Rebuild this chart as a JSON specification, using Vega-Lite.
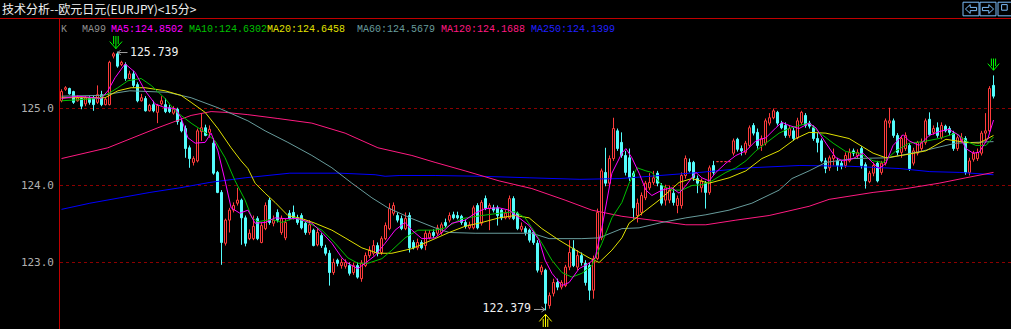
{
"$schema":"https://vega.github.io/schema/vega-lite/v6.json",
"width":1011,"height":311,
"autosize":{"type":"none"},
"padding":{"left":0,"top":18,"right":0,"bottom":0},
"background":"#000000",
"config":{"view":{"stroke":null}},
"datasets":{
"grid":[{"p":123},{"p":124},{"p":125}],
"k":[
{"i":0,"o":125.10,"h":125.25,"l":125.08,"c":125.22},
{"i":1,"o":125.25,"h":125.29,"l":125.23,"c":125.27},
{"i":2,"o":125.26,"h":125.27,"l":125.18,"c":125.19},
{"i":3,"o":125.22,"h":125.23,"l":125.06,"c":125.08},
{"i":4,"o":125.10,"h":125.17,"l":125.09,"c":125.14},
{"i":5,"o":125.13,"h":125.14,"l":124.99,"c":125.03},
{"i":6,"o":125.06,"h":125.16,"l":125.03,"c":125.14},
{"i":7,"o":125.13,"h":125.16,"l":125.05,"c":125.08},
{"i":8,"o":125.14,"h":125.17,"l":124.97,"c":125.05},
{"i":9,"o":125.08,"h":125.30,"l":125.06,"c":125.18},
{"i":10,"o":125.18,"h":125.23,"l":125.03,"c":125.05},
{"i":11,"o":125.05,"h":125.14,"l":125.04,"c":125.12},
{"i":12,"o":125.05,"h":125.62,"l":125.04,"c":125.60},
{"i":13,"o":125.68,"h":125.73,"l":125.65,"c":125.71},
{"i":14,"o":125.71,"h":125.739,"l":125.53,"c":125.55},
{"i":15,"o":125.57,"h":125.62,"l":125.55,"c":125.60},
{"i":16,"o":125.57,"h":125.60,"l":125.36,"c":125.39},
{"i":17,"o":125.39,"h":125.49,"l":125.38,"c":125.45},
{"i":18,"o":125.45,"h":125.49,"l":125.27,"c":125.30},
{"i":19,"o":125.31,"h":125.34,"l":125.08,"c":125.10},
{"i":20,"o":125.10,"h":125.19,"l":125.09,"c":125.14},
{"i":21,"o":125.13,"h":125.16,"l":124.96,"c":124.97},
{"i":22,"o":124.97,"h":125.06,"l":124.96,"c":125.04},
{"i":23,"o":125.05,"h":125.10,"l":124.95,"c":124.97},
{"i":24,"o":124.95,"h":125.06,"l":124.81,"c":125.04},
{"i":25,"o":125.06,"h":125.16,"l":125.04,"c":125.10},
{"i":26,"o":125.05,"h":125.13,"l":124.94,"c":124.96},
{"i":27,"o":125.01,"h":125.05,"l":124.94,"c":124.96},
{"i":28,"o":124.94,"h":125.03,"l":124.92,"c":124.99},
{"i":29,"o":124.99,"h":125.01,"l":124.79,"c":124.83},
{"i":30,"o":124.82,"h":124.86,"l":124.69,"c":124.71},
{"i":31,"o":124.74,"h":124.78,"l":124.36,"c":124.48},
{"i":32,"o":124.49,"h":124.52,"l":124.23,"c":124.35},
{"i":33,"o":124.30,"h":124.38,"l":124.26,"c":124.35},
{"i":34,"o":124.32,"h":124.74,"l":124.30,"c":124.71},
{"i":35,"o":124.70,"h":124.94,"l":124.58,"c":124.75},
{"i":36,"o":124.75,"h":124.79,"l":124.64,"c":124.65},
{"i":37,"o":124.69,"h":124.78,"l":124.62,"c":124.73},
{"i":38,"o":124.55,"h":124.61,"l":124.14,"c":124.16},
{"i":39,"o":124.17,"h":124.19,"l":123.90,"c":123.91},
{"i":40,"o":123.91,"h":123.94,"l":122.97,"c":123.26},
{"i":41,"o":123.25,"h":123.57,"l":123.22,"c":123.55},
{"i":42,"o":123.55,"h":123.71,"l":123.39,"c":123.68},
{"i":43,"o":123.68,"h":123.78,"l":123.65,"c":123.74},
{"i":44,"o":123.77,"h":123.97,"l":123.74,"c":123.81},
{"i":45,"o":123.81,"h":123.83,"l":123.23,"c":123.58},
{"i":46,"o":123.58,"h":123.61,"l":123.21,"c":123.25},
{"i":47,"o":123.31,"h":123.43,"l":123.29,"c":123.38},
{"i":48,"o":123.31,"h":123.61,"l":123.29,"c":123.47},
{"i":49,"o":123.57,"h":123.60,"l":123.29,"c":123.31},
{"i":50,"o":123.26,"h":123.52,"l":123.25,"c":123.48},
{"i":51,"o":123.44,"h":123.78,"l":123.42,"c":123.74},
{"i":52,"o":123.81,"h":123.84,"l":123.49,"c":123.52},
{"i":53,"o":123.51,"h":123.61,"l":123.47,"c":123.55},
{"i":54,"o":123.65,"h":123.69,"l":123.52,"c":123.55},
{"i":55,"o":123.39,"h":123.61,"l":123.36,"c":123.57},
{"i":56,"o":123.32,"h":123.57,"l":123.29,"c":123.52},
{"i":57,"o":123.64,"h":123.68,"l":123.55,"c":123.57},
{"i":58,"o":123.65,"h":123.74,"l":123.56,"c":123.58},
{"i":59,"o":123.58,"h":123.62,"l":123.49,"c":123.52},
{"i":60,"o":123.61,"h":123.64,"l":123.43,"c":123.45},
{"i":61,"o":123.51,"h":123.53,"l":123.36,"c":123.39},
{"i":62,"o":123.39,"h":123.55,"l":123.36,"c":123.49},
{"i":63,"o":123.42,"h":123.44,"l":123.21,"c":123.22},
{"i":64,"o":123.23,"h":123.44,"l":123.21,"c":123.39},
{"i":65,"o":123.35,"h":123.38,"l":123.19,"c":123.22},
{"i":66,"o":123.19,"h":123.23,"l":123.09,"c":123.12},
{"i":67,"o":123.12,"h":123.16,"l":122.70,"c":122.87},
{"i":68,"o":122.87,"h":123.05,"l":122.84,"c":123.00},
{"i":69,"o":123.03,"h":123.05,"l":122.95,"c":122.99},
{"i":70,"o":122.96,"h":123.05,"l":122.92,"c":123.00},
{"i":71,"o":122.95,"h":123.04,"l":122.92,"c":123.00},
{"i":72,"o":122.96,"h":123.00,"l":122.83,"c":122.86},
{"i":73,"o":122.87,"h":123.00,"l":122.84,"c":122.96},
{"i":74,"o":122.96,"h":123.00,"l":122.79,"c":122.81},
{"i":75,"o":122.79,"h":123.03,"l":122.75,"c":122.99},
{"i":76,"o":122.96,"h":123.13,"l":122.94,"c":123.09},
{"i":77,"o":123.09,"h":123.21,"l":123.06,"c":123.16},
{"i":78,"o":123.12,"h":123.29,"l":123.09,"c":123.22},
{"i":79,"o":123.22,"h":123.26,"l":123.08,"c":123.12},
{"i":80,"o":123.13,"h":123.34,"l":123.10,"c":123.31},
{"i":81,"o":123.31,"h":123.52,"l":123.29,"c":123.48},
{"i":82,"o":123.44,"h":123.77,"l":123.42,"c":123.70},
{"i":83,"o":123.64,"h":123.78,"l":123.61,"c":123.74},
{"i":84,"o":123.61,"h":123.65,"l":123.52,"c":123.55},
{"i":85,"o":123.57,"h":123.61,"l":123.42,"c":123.44},
{"i":86,"o":123.44,"h":123.65,"l":123.42,"c":123.57},
{"i":87,"o":123.61,"h":123.65,"l":123.13,"c":123.19},
{"i":88,"o":123.26,"h":123.29,"l":123.17,"c":123.19},
{"i":89,"o":123.19,"h":123.31,"l":123.16,"c":123.26},
{"i":90,"o":123.26,"h":123.29,"l":123.17,"c":123.19},
{"i":91,"o":123.22,"h":123.42,"l":123.16,"c":123.38},
{"i":92,"o":123.32,"h":123.42,"l":123.30,"c":123.38},
{"i":93,"o":123.39,"h":123.43,"l":123.32,"c":123.35},
{"i":94,"o":123.38,"h":123.49,"l":123.35,"c":123.45},
{"i":95,"o":123.39,"h":123.52,"l":123.36,"c":123.49},
{"i":96,"o":123.52,"h":123.57,"l":123.45,"c":123.48},
{"i":97,"o":123.55,"h":123.65,"l":123.52,"c":123.61},
{"i":98,"o":123.62,"h":123.66,"l":123.56,"c":123.58},
{"i":99,"o":123.61,"h":123.66,"l":123.56,"c":123.58},
{"i":100,"o":123.60,"h":123.62,"l":123.49,"c":123.52},
{"i":101,"o":123.52,"h":123.56,"l":123.44,"c":123.47},
{"i":102,"o":123.45,"h":123.53,"l":123.43,"c":123.49},
{"i":103,"o":123.45,"h":123.74,"l":123.43,"c":123.71},
{"i":104,"o":123.74,"h":123.77,"l":123.43,"c":123.45},
{"i":105,"o":123.51,"h":123.81,"l":123.48,"c":123.78},
{"i":106,"o":123.83,"h":123.87,"l":123.68,"c":123.70},
{"i":107,"o":123.70,"h":123.77,"l":123.42,"c":123.74},
{"i":108,"o":123.71,"h":123.75,"l":123.65,"c":123.68},
{"i":109,"o":123.71,"h":123.74,"l":123.48,"c":123.61},
{"i":110,"o":123.68,"h":123.70,"l":123.55,"c":123.58},
{"i":111,"o":123.58,"h":123.68,"l":123.56,"c":123.64},
{"i":112,"o":123.58,"h":123.87,"l":123.56,"c":123.83},
{"i":113,"o":123.83,"h":123.86,"l":123.55,"c":123.57},
{"i":114,"o":123.64,"h":123.66,"l":123.42,"c":123.44},
{"i":115,"o":123.43,"h":123.52,"l":123.40,"c":123.47},
{"i":116,"o":123.44,"h":123.47,"l":123.35,"c":123.39},
{"i":117,"o":123.42,"h":123.44,"l":123.26,"c":123.29},
{"i":118,"o":123.39,"h":123.42,"l":123.23,"c":123.26},
{"i":119,"o":123.25,"h":123.29,"l":122.87,"c":122.90},
{"i":120,"o":122.88,"h":122.97,"l":122.84,"c":122.94},
{"i":121,"o":122.90,"h":122.92,"l":122.379,"c":122.47},
{"i":122,"o":122.44,"h":122.61,"l":122.40,"c":122.57},
{"i":123,"o":122.60,"h":122.79,"l":122.56,"c":122.74},
{"i":124,"o":122.74,"h":122.79,"l":122.64,"c":122.68},
{"i":125,"o":122.68,"h":122.77,"l":122.65,"c":122.74},
{"i":126,"o":122.70,"h":122.97,"l":122.68,"c":122.94},
{"i":127,"o":122.94,"h":123.29,"l":122.90,"c":123.13},
{"i":128,"o":123.18,"h":123.29,"l":122.94,"c":122.96},
{"i":129,"o":122.94,"h":123.16,"l":122.90,"c":123.09},
{"i":130,"o":123.09,"h":123.13,"l":122.96,"c":123.00},
{"i":131,"o":122.99,"h":123.03,"l":122.70,"c":122.74},
{"i":132,"o":122.96,"h":123.00,"l":122.51,"c":122.64},
{"i":133,"o":122.64,"h":123.09,"l":122.53,"c":123.05},
{"i":134,"o":123.05,"h":123.70,"l":123.03,"c":123.65},
{"i":135,"o":123.32,"h":124.22,"l":123.29,"c":124.19},
{"i":136,"o":124.17,"h":124.49,"l":123.99,"c":124.03},
{"i":137,"o":124.03,"h":124.39,"l":124.00,"c":124.35},
{"i":138,"o":124.35,"h":124.88,"l":124.32,"c":124.74},
{"i":139,"o":124.71,"h":124.74,"l":124.45,"c":124.48},
{"i":140,"o":124.56,"h":124.69,"l":124.36,"c":124.39},
{"i":141,"o":124.39,"h":124.45,"l":124.13,"c":124.17},
{"i":142,"o":124.36,"h":124.48,"l":124.06,"c":124.10},
{"i":143,"o":124.16,"h":124.19,"l":123.57,"c":123.71},
{"i":144,"o":123.61,"h":123.83,"l":123.52,"c":123.77},
{"i":145,"o":123.65,"h":123.91,"l":123.61,"c":123.87},
{"i":146,"o":123.84,"h":124.06,"l":123.81,"c":124.03},
{"i":147,"o":123.97,"h":124.16,"l":123.94,"c":124.04},
{"i":148,"o":124.04,"h":124.19,"l":124.01,"c":124.10},
{"i":149,"o":124.16,"h":124.19,"l":123.99,"c":124.03},
{"i":150,"o":124.00,"h":124.03,"l":123.74,"c":123.77},
{"i":151,"o":123.81,"h":124.01,"l":123.74,"c":123.97},
{"i":152,"o":123.81,"h":124.00,"l":123.77,"c":123.94},
{"i":153,"o":123.90,"h":123.96,"l":123.74,"c":123.78},
{"i":154,"o":123.74,"h":123.87,"l":123.64,"c":123.83},
{"i":155,"o":123.74,"h":124.17,"l":123.70,"c":124.13},
{"i":156,"o":124.13,"h":124.39,"l":124.09,"c":124.35},
{"i":157,"o":124.30,"h":124.35,"l":124.17,"c":124.19},
{"i":158,"o":124.30,"h":124.32,"l":124.06,"c":124.10},
{"i":159,"o":124.09,"h":124.13,"l":123.90,"c":124.03},
{"i":160,"o":123.97,"h":124.09,"l":123.91,"c":124.06},
{"i":161,"o":124.03,"h":124.06,"l":123.70,"c":123.91},
{"i":162,"o":123.91,"h":124.26,"l":123.88,"c":124.23},
{"i":163,"o":124.26,"h":124.32,"l":124.14,"c":124.17},
{"i":164,"o":124.31,"h":124.31,"l":124.31,"c":124.31},
{"i":165,"o":124.31,"h":124.31,"l":124.31,"c":124.31},
{"i":166,"o":124.31,"h":124.31,"l":124.31,"c":124.31},
{"i":167,"o":124.31,"h":124.31,"l":124.31,"c":124.31},
{"i":168,"o":124.42,"h":124.61,"l":124.39,"c":124.58},
{"i":169,"o":124.60,"h":124.62,"l":124.44,"c":124.47},
{"i":170,"o":124.48,"h":124.52,"l":124.39,"c":124.45},
{"i":171,"o":124.43,"h":124.58,"l":124.40,"c":124.55},
{"i":172,"o":124.52,"h":124.78,"l":124.49,"c":124.75},
{"i":173,"o":124.78,"h":124.81,"l":124.65,"c":124.68},
{"i":174,"o":124.69,"h":124.74,"l":124.48,"c":124.52},
{"i":175,"o":124.52,"h":124.65,"l":124.45,"c":124.61},
{"i":176,"o":124.55,"h":124.87,"l":124.52,"c":124.84},
{"i":177,"o":124.81,"h":124.94,"l":124.78,"c":124.88},
{"i":178,"o":124.88,"h":125.00,"l":124.86,"c":124.97},
{"i":179,"o":124.95,"h":124.97,"l":124.78,"c":124.81},
{"i":180,"o":124.81,"h":124.84,"l":124.73,"c":124.75},
{"i":181,"o":124.78,"h":124.82,"l":124.62,"c":124.65},
{"i":182,"o":124.65,"h":124.78,"l":124.62,"c":124.74},
{"i":183,"o":124.71,"h":124.75,"l":124.58,"c":124.61},
{"i":184,"o":124.62,"h":124.88,"l":124.60,"c":124.84},
{"i":185,"o":124.82,"h":124.97,"l":124.79,"c":124.95},
{"i":186,"o":124.91,"h":124.94,"l":124.75,"c":124.78},
{"i":187,"o":124.81,"h":124.84,"l":124.74,"c":124.77},
{"i":188,"o":124.75,"h":124.78,"l":124.58,"c":124.61},
{"i":189,"o":124.61,"h":124.68,"l":124.43,"c":124.56},
{"i":190,"o":124.58,"h":124.61,"l":124.30,"c":124.32},
{"i":191,"o":124.32,"h":124.36,"l":124.16,"c":124.22},
{"i":192,"o":124.23,"h":124.39,"l":124.19,"c":124.36},
{"i":193,"o":124.35,"h":124.48,"l":124.26,"c":124.39},
{"i":194,"o":124.32,"h":124.36,"l":124.19,"c":124.26},
{"i":195,"o":124.29,"h":124.32,"l":124.21,"c":124.25},
{"i":196,"o":124.26,"h":124.43,"l":124.23,"c":124.39},
{"i":197,"o":124.32,"h":124.48,"l":124.30,"c":124.43},
{"i":198,"o":124.45,"h":124.48,"l":124.38,"c":124.42},
{"i":199,"o":124.39,"h":124.47,"l":124.35,"c":124.43},
{"i":200,"o":124.48,"h":124.51,"l":124.22,"c":124.26},
{"i":201,"o":124.27,"h":124.30,"l":123.96,"c":124.06},
{"i":202,"o":124.05,"h":124.19,"l":124.03,"c":124.16},
{"i":203,"o":124.16,"h":124.30,"l":124.12,"c":124.26},
{"i":204,"o":124.29,"h":124.32,"l":124.04,"c":124.06},
{"i":205,"o":124.17,"h":124.32,"l":124.14,"c":124.29},
{"i":206,"o":124.29,"h":124.87,"l":124.26,"c":124.84},
{"i":207,"o":124.81,"h":125.01,"l":124.75,"c":124.84},
{"i":208,"o":124.84,"h":124.87,"l":124.62,"c":124.65},
{"i":209,"o":124.65,"h":124.68,"l":124.39,"c":124.43},
{"i":210,"o":124.43,"h":124.65,"l":124.36,"c":124.61},
{"i":211,"o":124.48,"h":124.69,"l":124.45,"c":124.65},
{"i":212,"o":124.52,"h":124.55,"l":124.19,"c":124.22},
{"i":213,"o":124.29,"h":124.49,"l":124.26,"c":124.45},
{"i":214,"o":124.42,"h":124.58,"l":124.39,"c":124.56},
{"i":215,"o":124.48,"h":124.61,"l":124.45,"c":124.56},
{"i":216,"o":124.56,"h":124.87,"l":124.53,"c":124.84},
{"i":217,"o":124.86,"h":124.95,"l":124.64,"c":124.66},
{"i":218,"o":124.69,"h":124.78,"l":124.66,"c":124.74},
{"i":219,"o":124.75,"h":124.82,"l":124.62,"c":124.65},
{"i":220,"o":124.62,"h":124.82,"l":124.60,"c":124.78},
{"i":221,"o":124.77,"h":124.79,"l":124.69,"c":124.71},
{"i":222,"o":124.74,"h":124.77,"l":124.65,"c":124.69},
{"i":223,"o":124.68,"h":124.71,"l":124.45,"c":124.48},
{"i":224,"o":124.48,"h":124.65,"l":124.45,"c":124.62},
{"i":225,"o":124.58,"h":124.68,"l":124.56,"c":124.62},
{"i":226,"o":124.61,"h":124.64,"l":124.14,"c":124.17},
{"i":227,"o":124.17,"h":124.36,"l":124.13,"c":124.32},
{"i":228,"o":124.34,"h":124.45,"l":124.31,"c":124.42},
{"i":229,"o":124.35,"h":124.48,"l":124.32,"c":124.43},
{"i":230,"o":124.42,"h":124.71,"l":124.39,"c":124.68},
{"i":231,"o":124.68,"h":124.94,"l":124.58,"c":124.71},
{"i":232,"o":124.71,"h":125.29,"l":124.69,"c":125.26},
{"i":233,"o":125.30,"h":125.43,"l":125.13,"c":125.16}
],
"ma":[
{"s":"MA250","x":0,"p":123.69},{"s":"MA250","x":7.1,"p":123.77},{"s":"MA250","x":14.6,"p":123.84},{"s":"MA250","x":22.1,"p":123.91},{"s":"MA250","x":29.6,"p":123.97},{"s":"MA250","x":37.1,"p":124.04},{"s":"MA250","x":45.9,"p":124.10},{"s":"MA250","x":57.1,"p":124.16},{"s":"MA250","x":69.6,"p":124.16},{"s":"MA250","x":78.4,"p":124.14},{"s":"MA250","x":80.9,"p":124.12},{"s":"MA250","x":84.6,"p":124.13},{"s":"MA250","x":93.4,"p":124.13},{"s":"MA250","x":104.6,"p":124.12},{"s":"MA250","x":117.1,"p":124.10},{"s":"MA250","x":129.6,"p":124.08},{"s":"MA250","x":139.6,"p":124.09},{"s":"MA250","x":149.6,"p":124.13},{"s":"MA250","x":159.6,"p":124.17},{"s":"MA250","x":172.1,"p":124.23},{"s":"MA250","x":184.6,"p":124.26},{"s":"MA250","x":197.1,"p":124.25},{"s":"MA250","x":209.6,"p":124.22},{"s":"MA250","x":217.1,"p":124.18},{"s":"MA250","x":224.6,"p":124.17},{"s":"MA250","x":233,"p":124.14},
{"s":"MA120","x":0,"p":124.35},{"s":"MA120","x":11.6,"p":124.49},{"s":"MA120","x":24.1,"p":124.75},{"s":"MA120","x":32.4,"p":124.91},{"s":"MA120","x":37.4,"p":124.96},{"s":"MA120","x":40.9,"p":124.95},{"s":"MA120","x":46.6,"p":124.92},{"s":"MA120","x":54.1,"p":124.87},{"s":"MA120","x":62.6,"p":124.81},{"s":"MA120","x":70.9,"p":124.68},{"s":"MA120","x":79.1,"p":124.49},{"s":"MA120","x":87.6,"p":124.39},{"s":"MA120","x":93.4,"p":124.30},{"s":"MA120","x":100.9,"p":124.19},{"s":"MA120","x":109.4,"p":124.06},{"s":"MA120","x":117.6,"p":123.96},{"s":"MA120","x":125.9,"p":123.81},{"s":"MA120","x":132.6,"p":123.68},{"s":"MA120","x":140.1,"p":123.60},{"s":"MA120","x":147.6,"p":123.55},{"s":"MA120","x":156.1,"p":123.49},{"s":"MA120","x":161.1,"p":123.49},{"s":"MA120","x":168.6,"p":123.55},{"s":"MA120","x":176.9,"p":123.61},{"s":"MA120","x":186.9,"p":123.73},{"s":"MA120","x":191.9,"p":123.82},{"s":"MA120","x":202.9,"p":123.91},{"s":"MA120","x":211.1,"p":123.96},{"s":"MA120","x":219.4,"p":124.03},{"s":"MA120","x":226.1,"p":124.10},{"s":"MA120","x":233,"p":124.17},
{"s":"MA60","x":0,"p":125.16},{"s":"MA60","x":9.6,"p":125.17},{"s":"MA60","x":17.1,"p":125.23},{"s":"MA60","x":26.6,"p":125.21},{"s":"MA60","x":32.4,"p":125.14},{"s":"MA60","x":39.1,"p":125.01},{"s":"MA60","x":46.6,"p":124.84},{"s":"MA60","x":50.9,"p":124.71},{"s":"MA60","x":56.6,"p":124.56},{"s":"MA60","x":62.6,"p":124.39},{"s":"MA60","x":67.6,"p":124.23},{"s":"MA60","x":72.6,"p":124.03},{"s":"MA60","x":77.6,"p":123.84},{"s":"MA60","x":81.6,"p":123.71},{"s":"MA60","x":87.6,"p":123.57},{"s":"MA60","x":93.4,"p":123.45},{"s":"MA60","x":96.9,"p":123.39},{"s":"MA60","x":103.4,"p":123.38},{"s":"MA60","x":117.6,"p":123.38},{"s":"MA60","x":121.9,"p":123.31},{"s":"MA60","x":130.1,"p":123.31},{"s":"MA60","x":134.4,"p":123.32},{"s":"MA60","x":140.1,"p":123.44},{"s":"MA60","x":144.4,"p":123.45},{"s":"MA60","x":150.1,"p":123.52},{"s":"MA60","x":156.1,"p":123.58},{"s":"MA60","x":161.1,"p":123.62},{"s":"MA60","x":166.9,"p":123.68},{"s":"MA60","x":172.6,"p":123.77},{"s":"MA60","x":179.4,"p":123.94},{"s":"MA60","x":182.6,"p":124.09},{"s":"MA60","x":186.9,"p":124.19},{"s":"MA60","x":191.1,"p":124.30},{"s":"MA60","x":197.9,"p":124.35},{"s":"MA60","x":206.9,"p":124.36},{"s":"MA60","x":215.4,"p":124.45},{"s":"MA60","x":223.6,"p":124.55},{"s":"MA60","x":233,"p":124.57},
{"s":"MA20","x":0,"p":125.14},{"s":"MA20","x":10.9,"p":125.14},{"s":"MA20","x":14.1,"p":125.23},{"s":"MA20","x":17.4,"p":125.27},{"s":"MA20","x":20.9,"p":125.27},{"s":"MA20","x":25.9,"p":125.23},{"s":"MA20","x":29.9,"p":125.17},{"s":"MA20","x":32.4,"p":125.08},{"s":"MA20","x":35.9,"p":124.95},{"s":"MA20","x":39.1,"p":124.74},{"s":"MA20","x":42.4,"p":124.49},{"s":"MA20","x":44.9,"p":124.32},{"s":"MA20","x":46.6,"p":124.22},{"s":"MA20","x":48.4,"p":124.03},{"s":"MA20","x":50.9,"p":123.90},{"s":"MA20","x":53.4,"p":123.78},{"s":"MA20","x":56.6,"p":123.61},{"s":"MA20","x":60.1,"p":123.57},{"s":"MA20","x":63.4,"p":123.51},{"s":"MA20","x":67.6,"p":123.42},{"s":"MA20","x":70.9,"p":123.32},{"s":"MA20","x":75.1,"p":123.19},{"s":"MA20","x":79.1,"p":123.12},{"s":"MA20","x":82.6,"p":123.12},{"s":"MA20","x":87.6,"p":123.18},{"s":"MA20","x":93.4,"p":123.31},{"s":"MA20","x":96.9,"p":123.39},{"s":"MA20","x":100.9,"p":123.47},{"s":"MA20","x":105.1,"p":123.52},{"s":"MA20","x":109.4,"p":123.58},{"s":"MA20","x":113.4,"p":123.61},{"s":"MA20","x":116.9,"p":123.58},{"s":"MA20","x":120.1,"p":123.44},{"s":"MA20","x":124.4,"p":123.29},{"s":"MA20","x":127.6,"p":123.19},{"s":"MA20","x":131.9,"p":123.06},{"s":"MA20","x":134.4,"p":123.00},{"s":"MA20","x":137.6,"p":123.16},{"s":"MA20","x":140.1,"p":123.32},{"s":"MA20","x":141.9,"p":123.51},{"s":"MA20","x":144.4,"p":123.61},{"s":"MA20","x":149.4,"p":123.81},{"s":"MA20","x":154.4,"p":124.04},{"s":"MA20","x":157.6,"p":124.09},{"s":"MA20","x":161.9,"p":124.03},{"s":"MA20","x":166.9,"p":124.10},{"s":"MA20","x":171.1,"p":124.19},{"s":"MA20","x":175.1,"p":124.35},{"s":"MA20","x":179.4,"p":124.45},{"s":"MA20","x":183.6,"p":124.61},{"s":"MA20","x":186.9,"p":124.69},{"s":"MA20","x":191.1,"p":124.68},{"s":"MA20","x":196.9,"p":124.61},{"s":"MA20","x":202.9,"p":124.42},{"s":"MA20","x":206.1,"p":124.36},{"s":"MA20","x":211.1,"p":124.40},{"s":"MA20","x":216.1,"p":124.45},{"s":"MA20","x":221.1,"p":124.60},{"s":"MA20","x":226.1,"p":124.56},{"s":"MA20","x":229.4,"p":124.55},{"s":"MA20","x":233,"p":124.65},
{"s":"MA10","x":0,"p":125.10},{"s":"MA10","x":9.1,"p":125.13},{"s":"MA10","x":11.6,"p":125.19},{"s":"MA10","x":14.1,"p":125.27},{"s":"MA10","x":16.6,"p":125.36},{"s":"MA10","x":19.9,"p":125.39},{"s":"MA10","x":22.4,"p":125.30},{"s":"MA10","x":25.9,"p":125.13},{"s":"MA10","x":28.4,"p":124.97},{"s":"MA10","x":32.4,"p":124.81},{"s":"MA10","x":35.9,"p":124.69},{"s":"MA10","x":38.4,"p":124.58},{"s":"MA10","x":40.9,"p":124.36},{"s":"MA10","x":43.4,"p":124.06},{"s":"MA10","x":45.9,"p":123.81},{"s":"MA10","x":47.6,"p":123.58},{"s":"MA10","x":49.1,"p":123.53},{"s":"MA10","x":52.6,"p":123.56},{"s":"MA10","x":55.1,"p":123.52},{"s":"MA10","x":58.4,"p":123.58},{"s":"MA10","x":61.6,"p":123.52},{"s":"MA10","x":65.1,"p":123.42},{"s":"MA10","x":68.4,"p":123.25},{"s":"MA10","x":71.6,"p":123.06},{"s":"MA10","x":74.1,"p":122.99},{"s":"MA10","x":76.6,"p":122.99},{"s":"MA10","x":80.1,"p":123.05},{"s":"MA10","x":82.6,"p":123.16},{"s":"MA10","x":85.9,"p":123.32},{"s":"MA10","x":89.1,"p":123.42},{"s":"MA10","x":93.4,"p":123.42},{"s":"MA10","x":95.9,"p":123.45},{"s":"MA10","x":100.1,"p":123.57},{"s":"MA10","x":105.1,"p":123.61},{"s":"MA10","x":109.4,"p":123.64},{"s":"MA10","x":113.4,"p":123.66},{"s":"MA10","x":115.9,"p":123.58},{"s":"MA10","x":117.6,"p":123.45},{"s":"MA10","x":120.1,"p":123.25},{"s":"MA10","x":122.6,"p":123.03},{"s":"MA10","x":125.1,"p":122.87},{"s":"MA10","x":127.6,"p":122.81},{"s":"MA10","x":130.1,"p":122.86},{"s":"MA10","x":132.6,"p":122.96},{"s":"MA10","x":135.1,"p":123.25},{"s":"MA10","x":137.6,"p":123.58},{"s":"MA10","x":140.1,"p":123.78},{"s":"MA10","x":141.9,"p":124.03},{"s":"MA10","x":143.9,"p":124.23},{"s":"MA10","x":146.1,"p":124.19},{"s":"MA10","x":147.6,"p":124.17},{"s":"MA10","x":150.1,"p":124.00},{"s":"MA10","x":152.6,"p":123.94},{"s":"MA10","x":155.1,"p":123.94},{"s":"MA10","x":157.6,"p":124.00},{"s":"MA10","x":160.1,"p":124.01},{"s":"MA10","x":162.6,"p":124.06},{"s":"MA10","x":166.1,"p":124.17},{"s":"MA10","x":168.6,"p":124.23},{"s":"MA10","x":171.1,"p":124.32},{"s":"MA10","x":173.6,"p":124.45},{"s":"MA10","x":176.1,"p":124.55},{"s":"MA10","x":179.4,"p":124.68},{"s":"MA10","x":181.9,"p":124.74},{"s":"MA10","x":184.4,"p":124.78},{"s":"MA10","x":186.9,"p":124.81},{"s":"MA10","x":189.4,"p":124.69},{"s":"MA10","x":192.9,"p":124.55},{"s":"MA10","x":196.1,"p":124.44},{"s":"MA10","x":199.4,"p":124.42},{"s":"MA10","x":202.9,"p":124.32},{"s":"MA10","x":205.4,"p":124.30},{"s":"MA10","x":208.6,"p":124.45},{"s":"MA10","x":211.9,"p":124.55},{"s":"MA10","x":215.4,"p":124.57},{"s":"MA10","x":219.4,"p":124.61},{"s":"MA10","x":223.6,"p":124.68},{"s":"MA10","x":226.1,"p":124.58},{"s":"MA10","x":228.6,"p":124.52},{"s":"MA10","x":231.1,"p":124.52},{"s":"MA10","x":233,"p":124.63},
{"s":"MA5","x":0,"p":125.13},{"s":"MA5","x":4.1,"p":125.16},{"s":"MA5","x":9.9,"p":125.13},{"s":"MA5","x":11.6,"p":125.23},{"s":"MA5","x":13.4,"p":125.40},{"s":"MA5","x":15.9,"p":125.58},{"s":"MA5","x":18.4,"p":125.47},{"s":"MA5","x":20.9,"p":125.23},{"s":"MA5","x":23.4,"p":125.06},{"s":"MA5","x":25.9,"p":125.01},{"s":"MA5","x":28.4,"p":125.00},{"s":"MA5","x":29.9,"p":124.88},{"s":"MA5","x":31.6,"p":124.62},{"s":"MA5","x":33.4,"p":124.55},{"s":"MA5","x":35.9,"p":124.56},{"s":"MA5","x":37.4,"p":124.68},{"s":"MA5","x":39.1,"p":124.45},{"s":"MA5","x":40.9,"p":124.06},{"s":"MA5","x":42.4,"p":123.71},{"s":"MA5","x":44.6,"p":123.64},{"s":"MA5","x":46.6,"p":123.68},{"s":"MA5","x":48.4,"p":123.51},{"s":"MA5","x":50.9,"p":123.52},{"s":"MA5","x":53.4,"p":123.58},{"s":"MA5","x":55.9,"p":123.57},{"s":"MA5","x":59.1,"p":123.57},{"s":"MA5","x":62.6,"p":123.51},{"s":"MA5","x":65.1,"p":123.39},{"s":"MA5","x":67.6,"p":123.25},{"s":"MA5","x":70.1,"p":123.06},{"s":"MA5","x":71.6,"p":122.99},{"s":"MA5","x":74.1,"p":122.92},{"s":"MA5","x":75.9,"p":122.99},{"s":"MA5","x":78.4,"p":123.09},{"s":"MA5","x":80.9,"p":123.25},{"s":"MA5","x":83.4,"p":123.42},{"s":"MA5","x":85.9,"p":123.52},{"s":"MA5","x":87.6,"p":123.42},{"s":"MA5","x":90.1,"p":123.31},{"s":"MA5","x":93.4,"p":123.32},{"s":"MA5","x":95.1,"p":123.39},{"s":"MA5","x":97.6,"p":123.51},{"s":"MA5","x":100.9,"p":123.55},{"s":"MA5","x":103.4,"p":123.64},{"s":"MA5","x":105.9,"p":123.70},{"s":"MA5","x":109.4,"p":123.71},{"s":"MA5","x":111.9,"p":123.68},{"s":"MA5","x":114.4,"p":123.58},{"s":"MA5","x":116.9,"p":123.48},{"s":"MA5","x":119.4,"p":123.29},{"s":"MA5","x":120.9,"p":123.03},{"s":"MA5","x":122.6,"p":122.86},{"s":"MA5","x":125.1,"p":122.70},{"s":"MA5","x":126.9,"p":122.74},{"s":"MA5","x":129.4,"p":122.92},{"s":"MA5","x":131.9,"p":122.99},{"s":"MA5","x":133.4,"p":123.06},{"s":"MA5","x":135.1,"p":123.45},{"s":"MA5","x":137.6,"p":124.16},{"s":"MA5","x":140.1,"p":124.42},{"s":"MA5","x":141.1,"p":124.48},{"s":"MA5","x":142.6,"p":124.36},{"s":"MA5","x":144.4,"p":124.16},{"s":"MA5","x":146.1,"p":123.94},{"s":"MA5","x":147.6,"p":123.87},{"s":"MA5","x":150.1,"p":123.94},{"s":"MA5","x":152.6,"p":123.97},{"s":"MA5","x":154.4,"p":123.90},{"s":"MA5","x":156.1,"p":124.00},{"s":"MA5","x":158.6,"p":124.17},{"s":"MA5","x":160.1,"p":124.10},{"s":"MA5","x":161.9,"p":124.06},{"s":"MA5","x":163.6,"p":124.17},{"s":"MA5","x":166.1,"p":124.29},{"s":"MA5","x":168.6,"p":124.39},{"s":"MA5","x":171.1,"p":124.45},{"s":"MA5","x":173.6,"p":124.58},{"s":"MA5","x":176.1,"p":124.62},{"s":"MA5","x":178.6,"p":124.75},{"s":"MA5","x":180.1,"p":124.82},{"s":"MA5","x":181.9,"p":124.78},{"s":"MA5","x":184.4,"p":124.74},{"s":"MA5","x":186.9,"p":124.81},{"s":"MA5","x":188.6,"p":124.75},{"s":"MA5","x":191.1,"p":124.55},{"s":"MA5","x":193.6,"p":124.36},{"s":"MA5","x":195.4,"p":124.32},{"s":"MA5","x":197.9,"p":124.35},{"s":"MA5","x":200.4,"p":124.42},{"s":"MA5","x":202.9,"p":124.29},{"s":"MA5","x":204.4,"p":124.22},{"s":"MA5","x":206.1,"p":124.29},{"s":"MA5","x":207.9,"p":124.52},{"s":"MA5","x":210.4,"p":124.66},{"s":"MA5","x":211.9,"p":124.58},{"s":"MA5","x":214.4,"p":124.52},{"s":"MA5","x":216.9,"p":124.65},{"s":"MA5","x":219.4,"p":124.70},{"s":"MA5","x":221.9,"p":124.73},{"s":"MA5","x":224.4,"p":124.65},{"s":"MA5","x":226.1,"p":124.48},{"s":"MA5","x":227.9,"p":124.42},{"s":"MA5","x":229.4,"p":124.43},{"s":"MA5","x":231.6,"p":124.61},{"s":"MA5","x":233,"p":124.85}
]
},
"layer":[
{"data":{"name":"grid"},"mark":{"type":"rule","color":"#8c0000","strokeDash":[3,3],"strokeWidth":1},
 "encoding":{"y":{"field":"p","type":"quantitative","scale":{"domain":[122.136364,126.175325],"nice":false,"zero":false,"padding":0},"axis":null},
  "x":{"datum":-0.375,"type":"quantitative","scale":{"domain":[-15.375,237.375],"nice":false,"zero":false,"padding":0},"axis":null},"x2":{"datum":237.375}}},
{"data":{"name":"grid"},"mark":{"type":"text","align":"right","baseline":"middle","font":"DejaVu Sans Mono","fontSize":11,"color":"#b0b0b0"},
 "encoding":{"y":{"field":"p","type":"quantitative","axis":null},"x":{"datum":-1.875,"type":"quantitative","axis":null},"text":{"field":"p","type":"quantitative","format":".1f"}}},
{"data":{"values":[{}]},"mark":{"type":"text","text":"技术分析--欧元日元(EURJPY)<15分>","align":"left","baseline":"alphabetic","font":"Noto Sans CJK SC","fontSize":12,"color":"#f0f0f0"},
 "encoding":{"x":{"datum":-14.875,"type":"quantitative","axis":null},"y":{"datum":126.227,"type":"quantitative","axis":null}}},
{"data":{"values":[{}]},"mark":{"type":"rule","color":"#c00000","strokeWidth":1},
 "encoding":{"y":{"datum":126.168831,"type":"quantitative","axis":null},"x":{"datum":-15.375,"type":"quantitative","axis":null},"x2":{"datum":237.375}}},
{"data":{"values":[{}]},"mark":{"type":"rule","color":"#c00000","strokeWidth":1},
 "encoding":{"x":{"datum":-0.5,"type":"quantitative","axis":null},"y":{"datum":122.136364,"type":"quantitative","axis":null},"y2":{"datum":126.168831}}},
{"data":{"name":"k"},"mark":{"type":"rule","strokeWidth":1},
 "encoding":{"x":{"field":"i","type":"quantitative","axis":null},"y":{"field":"l","type":"quantitative","axis":null},"y2":{"field":"h"},
  "color":{"condition":{"test":"datum.c >= datum.o","value":"#ff3c3c"},"value":"#54fcfc"}}},
{"data":{"name":"k"},"mark":{"type":"bar","size":2,"strokeWidth":1},
 "encoding":{"x":{"field":"i","type":"quantitative","axis":null},"y":{"field":"o","type":"quantitative","axis":null},"y2":{"field":"c"},
  "fill":{"condition":{"test":"datum.c >= datum.o","value":"#000000"},"value":"#54fcfc"},
  "stroke":{"condition":{"test":"datum.c >= datum.o","value":"#ff3c3c"},"value":"#54fcfc"}}},
{"data":{"name":"ma"},"mark":{"type":"line","strokeWidth":1},
 "encoding":{"x":{"field":"x","type":"quantitative","axis":null},"y":{"field":"p","type":"quantitative","axis":null},
  "color":{"field":"s","type":"nominal","scale":{"domain":["MA250","MA120","MA60","MA20","MA10","MA5"],"range":["#0000ff","#ff1a80","#689c9c","#e0e000","#00c000","#ff00ff"]},"legend":null}}},
{"data":{"values":[{}]},"mark":{"type":"text","text":"K","align":"left","baseline":"alphabetic","font":"Liberation Mono","fontSize":10,"color":"#909090"},"encoding":{"x":{"datum":-0.125,"type":"quantitative","axis":null},"y":{"datum":126.0,"type":"quantitative","axis":null}}},
{"data":{"values":[{}]},"mark":{"type":"text","text":"MA99","align":"left","baseline":"alphabetic","font":"Liberation Mono","fontSize":10,"color":"#909090"},"encoding":{"x":{"datum":5.125,"type":"quantitative","axis":null},"y":{"datum":126.0,"type":"quantitative","axis":null}}},
{"data":{"values":[{}]},"mark":{"type":"text","text":"MA5:124.8502","align":"left","baseline":"alphabetic","font":"Liberation Mono","fontSize":10,"color":"#ff00ff"},"encoding":{"x":{"datum":12.375,"type":"quantitative","axis":null},"y":{"datum":126.0,"type":"quantitative","axis":null}}},
{"data":{"values":[{}]},"mark":{"type":"text","text":"MA10:124.6302","align":"left","baseline":"alphabetic","font":"Liberation Mono","fontSize":10,"color":"#00c000"},"encoding":{"x":{"datum":31.875,"type":"quantitative","axis":null},"y":{"datum":126.0,"type":"quantitative","axis":null}}},
{"data":{"values":[{}]},"mark":{"type":"text","text":"MA20:124.6458","align":"left","baseline":"alphabetic","font":"Liberation Mono","fontSize":10,"color":"#e0e000"},"encoding":{"x":{"datum":51.375,"type":"quantitative","axis":null},"y":{"datum":126.0,"type":"quantitative","axis":null}}},
{"data":{"values":[{}]},"mark":{"type":"text","text":"MA60:124.5679","align":"left","baseline":"alphabetic","font":"Liberation Mono","fontSize":10,"color":"#689c9c"},"encoding":{"x":{"datum":73.875,"type":"quantitative","axis":null},"y":{"datum":126.0,"type":"quantitative","axis":null}}},
{"data":{"values":[{}]},"mark":{"type":"text","text":"MA120:124.1688","align":"left","baseline":"alphabetic","font":"Liberation Mono","fontSize":10,"color":"#ff1a80"},"encoding":{"x":{"datum":94.875,"type":"quantitative","axis":null},"y":{"datum":126.0,"type":"quantitative","axis":null}}},
{"data":{"values":[{}]},"mark":{"type":"text","text":"MA250:124.1399","align":"left","baseline":"alphabetic","font":"Liberation Mono","fontSize":10,"color":"#2020ff"},"encoding":{"x":{"datum":117.375,"type":"quantitative","axis":null},"y":{"datum":126.0,"type":"quantitative","axis":null}}},
{"data":{"values":[{}]},"mark":{"type":"text","text":"125.739","align":"left","baseline":"middle","font":"DejaVu Sans Mono","fontSize":11.5,"color":"#f0f0f0"},"encoding":{"x":{"datum":17.125,"type":"quantitative","axis":null},"y":{"datum":125.727,"type":"quantitative","axis":null}}},
{"data":{"values":[{}]},"mark":{"type":"point","shape":"M-1,0L1,0M-1,0L-0.35,-0.45M-1,0L-0.35,0.45","size":100,"filled":false,"color":"#a0a0a0","strokeWidth":1,"opacity":1},"encoding":{"x":{"datum":15.25,"type":"quantitative","axis":null},"y":{"datum":125.727,"type":"quantitative","axis":null}}},
{"data":{"values":[{}]},"mark":{"type":"point","shape":"M-0.35,-1L-0.35,0.25M0,-1L0,0.95M0.35,-1L0.35,0.25M-0.95,-0.15L0,0.95L0.95,-0.15","size":169,"filled":false,"color":"#00ff00","strokeWidth":1,"opacity":1},"encoding":{"x":{"datum":13.6,"type":"quantitative","axis":null},"y":{"datum":125.857,"type":"quantitative","axis":null}}},
{"data":{"values":[{}]},"mark":{"type":"point","shape":"M-0.35,-1L-0.35,0.25M0,-1L0,0.95M0.35,-1L0.35,0.25M-0.95,-0.15L0,0.95L0.95,-0.15","size":144,"filled":false,"color":"#00ff00","strokeWidth":1,"opacity":1},"encoding":{"x":{"datum":233,"type":"quantitative","axis":null},"y":{"datum":125.571,"type":"quantitative","axis":null}}},
{"data":{"values":[{}]},"mark":{"type":"text","text":"122.379","align":"right","baseline":"middle","font":"DejaVu Sans Mono","fontSize":11.5,"color":"#f0f0f0"},"encoding":{"x":{"datum":117.375,"type":"quantitative","axis":null},"y":{"datum":122.39,"type":"quantitative","axis":null}}},
{"data":{"values":[{}]},"mark":{"type":"point","shape":"M1,0L-1,0M1,0L0.35,-0.45M1,0L0.35,0.45","size":121,"filled":false,"color":"#a0a0a0","strokeWidth":1,"opacity":1},"encoding":{"x":{"datum":119.5,"type":"quantitative","axis":null},"y":{"datum":122.39,"type":"quantitative","axis":null}}},
{"data":{"values":[{}]},"mark":{"type":"point","shape":"M-0.35,1L-0.35,-0.25M0,1L0,-0.95M0.35,1L0.35,-0.25M-0.95,0.15L0,-0.95L0.95,0.15","size":169,"filled":false,"color":"#ffff00","strokeWidth":1,"opacity":1},"encoding":{"x":{"datum":121,"type":"quantitative","axis":null},"y":{"datum":122.247,"type":"quantitative","axis":null}}},
{"data":{"values":[{}]},"mark":{"type":"point","shape":"M-1,-0.85H1V0.85H-1ZM-0.7,0L-0.1,-0.55V-0.2H0.7V0.2H-0.1V0.55Z","size":256,"filled":false,"color":"#7cbcf8","strokeWidth":1,"opacity":1},"encoding":{"x":{"datum":227.375,"type":"quantitative","axis":null},"y":{"datum":126.292,"type":"quantitative","axis":null}}},
{"data":{"values":[{}]},"mark":{"type":"point","shape":"M-1,-0.85H1V0.85H-1ZM0.7,0L0.1,-0.55V-0.2H-0.7V0.2H0.1V0.55Z","size":256,"filled":false,"color":"#7cbcf8","strokeWidth":1,"opacity":1},"encoding":{"x":{"datum":231.625,"type":"quantitative","axis":null},"y":{"datum":126.292,"type":"quantitative","axis":null}}},
{"data":{"values":[{}]},"mark":{"type":"point","shape":"M-1,-0.85H1V0.85H-1ZM-0.55,-0.55H0.15V0.15H-0.55Z","size":256,"filled":false,"color":"#7cbcf8","strokeWidth":1,"opacity":1},"encoding":{"x":{"datum":236.125,"type":"quantitative","axis":null},"y":{"datum":126.292,"type":"quantitative","axis":null}}}
]
}
